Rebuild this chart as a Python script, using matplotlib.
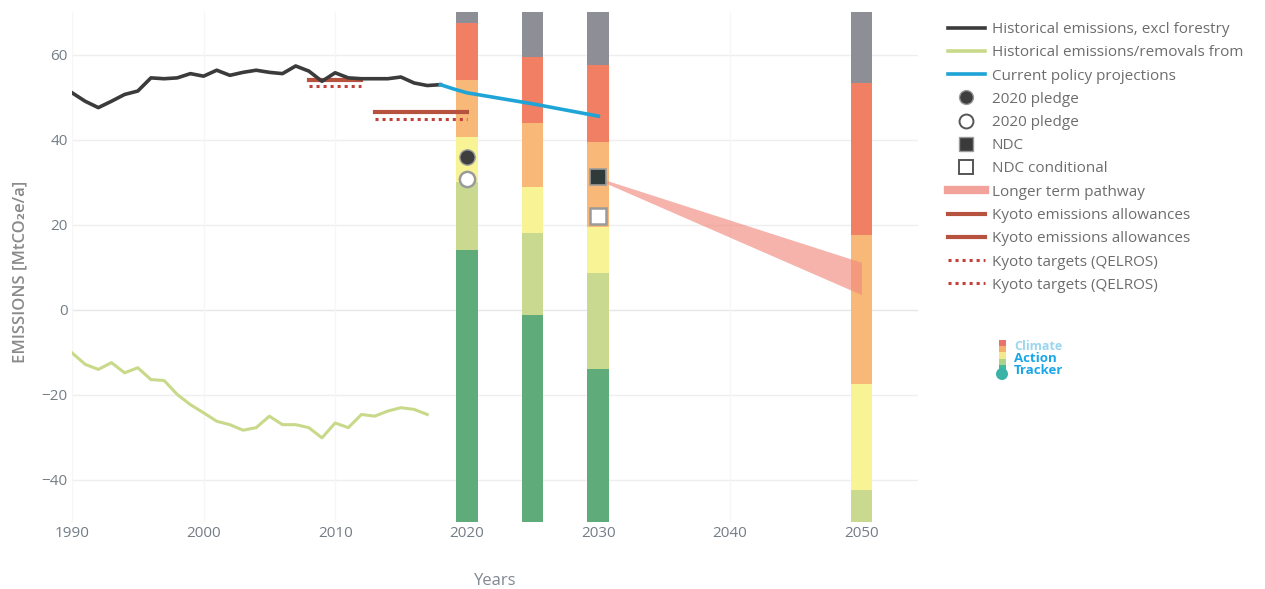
import matplotlib
matplotlib.use("Agg")
import matplotlib.pyplot as plt
from matplotlib.lines import Line2D
from matplotlib.patches import FancyBboxPatch, Circle

plt.rcParams['font.family'] = ['Open Sans', 'DejaVu Sans']

# ---- data -------------------------------------------------------------
hist_years = list(range(1990, 2019))
hist_emissions = [51.0, 49.0, 47.5, 49.0, 50.6, 51.4, 54.5, 54.3, 54.5, 55.5,
                  54.9, 56.3, 55.1, 55.8, 56.3, 55.8, 55.5, 57.3, 56.1, 53.7,
                  55.7, 54.5, 54.3, 54.3, 54.3, 54.7, 53.3, 52.7, 52.9]

lulucf_years = list(range(1990, 2018))
lulucf = [-10.2, -12.9, -14.1, -12.5, -14.9, -13.7, -16.5, -16.7, -20.0, -22.4,
          -24.3, -26.3, -27.1, -28.4, -27.8, -25.1, -27.1, -27.1, -27.8, -30.2,
          -26.7, -27.8, -24.7, -25.1, -23.9, -23.1, -23.5, -24.7]

cpp_years = [2018, 2019, 2020, 2025, 2030]
cpp_values = [52.9, 51.9, 51.0, 48.4, 45.5]

kyoto1_years = [2008, 2012]
kyoto1_allow = [54.0, 54.0]
kyoto1_target = [52.7, 52.7]
kyoto2_years = [2013, 2020]
kyoto2_allow = [46.5, 46.5]
kyoto2_target = [44.9, 44.9]

pledge2020_year = 2020
pledge2020_uncond = 36.0
pledge2020_cond = 30.6
ndc_year = 2030
ndc_uncond = 31.1
ndc_cond = 21.9

pathway_years = [2030, 2050]
pathway_upper = [31.0, 11.1]
pathway_lower = [30.5, 3.5]

# rating band boundaries, top to bottom
rating_years = [2020, 2025, 2030, 2050]
rating_bounds = {
    2020: [70, 67.5, 54.1, 40.7, 30.0, 14.1, -50],
    2025: [70, 59.5, 44.0, 28.9, 18.1, -1.2, -50],
    2030: [70, 57.6, 39.3, 19.3, 8.7, -14.1, -50],
    2050: [70, 53.4, 17.6, -17.6, -42.4, -50, -50],
}
rating_colors = ['#8e8f96', '#f07f63', '#f8b878', '#f8f496', '#c9da90', '#5fac7a']

x_ticks = [1990, 2000, 2010, 2020, 2030, 2040, 2050]
y_ticks = [-40, -20, 0, 20, 40, 60]

# ---- figure -----------------------------------------------------------
fig = plt.figure(figsize=(12.65, 5.89), dpi=100)
ax = fig.add_axes([72 / 1265, 1 - 522 / 589, (918 - 72) / 1265, (522 - 12) / 589])
ax.set_xlim(1990, 2054.3)
ax.set_ylim(-50, 70)

for y in y_ticks:
    ax.axhline(y, color='#e6e6e6' if y == 0 else '#efefef', lw=1, zorder=0)
for x in x_ticks:
    ax.axvline(x, color='#f6f6f6', lw=1, zorder=0)

# rating bars
bar_w = 1.65
for yr in rating_years:
    b = rating_bounds[yr]
    for i, c in enumerate(rating_colors):
        top, bot = b[i], b[i + 1]
        if top > bot:
            ax.bar(yr, top - bot, bottom=bot, width=bar_w, color=c, lw=0, zorder=2)

# longer term pathway
ax.fill_between(pathway_years, pathway_lower, pathway_upper, color='#f08a7e',
                alpha=0.65, lw=0, zorder=3)

# kyoto
kc_solid = '#b7523e'
kc_dot = '#c0413a'
ax.plot(kyoto1_years, kyoto1_allow, color=kc_solid, lw=3, zorder=3)
ax.plot(kyoto2_years, kyoto2_allow, color=kc_solid, lw=3, zorder=3)
ax.plot(kyoto1_years, kyoto1_target, color=kc_dot, lw=2.2, ls=(0, (1, 1.3)), zorder=3)
ax.plot(kyoto2_years, kyoto2_target, color=kc_dot, lw=2.2, ls=(0, (1, 1.3)), zorder=3)

# historical and projections
ax.plot(hist_years, hist_emissions, color='#3b3b3b', lw=2.6, zorder=4,
        solid_joinstyle='round')
ax.plot(lulucf_years, lulucf, color='#c8d98a', lw=2.2, zorder=4,
        solid_joinstyle='round')
ax.plot(cpp_years, cpp_values, color='#1ea4d6', lw=2.6, zorder=4)

# pledges / NDC markers
ax.plot([pledge2020_year], [pledge2020_uncond], 'o', ms=11, color='#3e3e3e',
        mec='#9a9a9a', mew=1, zorder=5)
ax.plot([pledge2020_year], [pledge2020_cond], 'o', ms=11, color='white',
        mec='#9a9a9a', mew=1.8, zorder=5)
ax.plot([ndc_year], [ndc_uncond], 's', ms=11, color='#2f3b3b',
        mec='#9a9a9a', mew=1.2, zorder=5)
ax.plot([ndc_year], [ndc_cond], 's', ms=11, color='white',
        mec='#9a9a9a', mew=1.8, zorder=5)

# axes styling
for s in ax.spines.values():
    s.set_visible(False)
ax.set_xticks(x_ticks)
ax.set_yticks(y_ticks)
ax.tick_params(length=0, labelsize=11, labelcolor='#737d86')
ax.tick_params(axis='x', pad=3)
ax.tick_params(axis='y', pad=3)
ax.set_xlabel('Years', fontsize=12, color='#7f8890', labelpad=23)
ax.set_ylabel('EMISSIONS [MtCO\u2082e/a]', fontsize=12, color='#8a8a8a',
              fontweight='semibold')
ax.yaxis.set_label_coords(-0.052, 0.49)

# legend
handles = [
    Line2D([], [], color='#3b3b3b', lw=2.6),
    Line2D([], [], color='#c8d98a', lw=2.6),
    Line2D([], [], color='#1ea4d6', lw=2.6),
    Line2D([], [], ls='', marker='o', ms=10, color='#3e3e3e', mec='#9a9a9a'),
    Line2D([], [], ls='', marker='o', ms=10, color='white', mec='#555555', mew=1.4),
    Line2D([], [], ls='', marker='s', ms=10, color='#3a3a3a', mec='#9a9a9a'),
    Line2D([], [], ls='', marker='s', ms=10, color='white', mec='#555555', mew=1.4),
    Line2D([], [], color='#f2a29a', lw=6),
    Line2D([], [], color=kc_solid, lw=3),
    Line2D([], [], color=kc_solid, lw=3),
    Line2D([], [], color=kc_dot, lw=2.2, ls=(0, (1, 1.3))),
    Line2D([], [], color=kc_dot, lw=2.2, ls=(0, (1, 1.3))),
]
labels = [
    'Historical emissions, excl forestry',
    'Historical emissions/removals from',
    'Current policy projections',
    '2020 pledge',
    '2020 pledge',
    'NDC',
    'NDC conditional',
    'Longer term pathway',
    'Kyoto emissions allowances',
    'Kyoto emissions allowances',
    'Kyoto targets (QELROS)',
    'Kyoto targets (QELROS)',
]
leg = fig.legend(handles, labels, loc='upper left',
                 bbox_to_anchor=(948 / 1265, 1 - 22 / 589),
                 frameon=False, fontsize=11, handlelength=2.4,
                 handletextpad=0.46, labelspacing=0.54, borderaxespad=0,
                 borderpad=0)
for t in leg.get_texts():
    t.set_color('#6d6d6d')

# Climate Action Tracker badge
logo = fig.add_axes([995 / 1265, 1 - 382 / 589, 80 / 1265, 45 / 589])
logo.set_xlim(0, 80)
logo.set_ylim(45, 0)
logo.axis('off')
therm_cols = ['#e8716a', '#f3b06b', '#f3e98a', '#a9d48a', '#42b99a']
for i, c in enumerate(therm_cols):
    logo.add_patch(FancyBboxPatch((3.5, 3 + i * 6.2), 7, 6.2, boxstyle='square,pad=0',
                                  fc=c, ec='none'))
logo.add_patch(Circle((7, 37), 6, fc='#3ab3a6', ec='none'))
logo.text(19, 10, 'Climate', color='#9ad6f0', fontsize=9, fontweight='bold', va='center')
logo.text(19, 22, 'Action', color='#1ba6e8', fontsize=9.5, fontweight='bold', va='center')
logo.text(19, 34, 'Tracker', color='#1ba6e8', fontsize=9.5, fontweight='bold', va='center')

fig.savefig('out.png', dpi=100)
